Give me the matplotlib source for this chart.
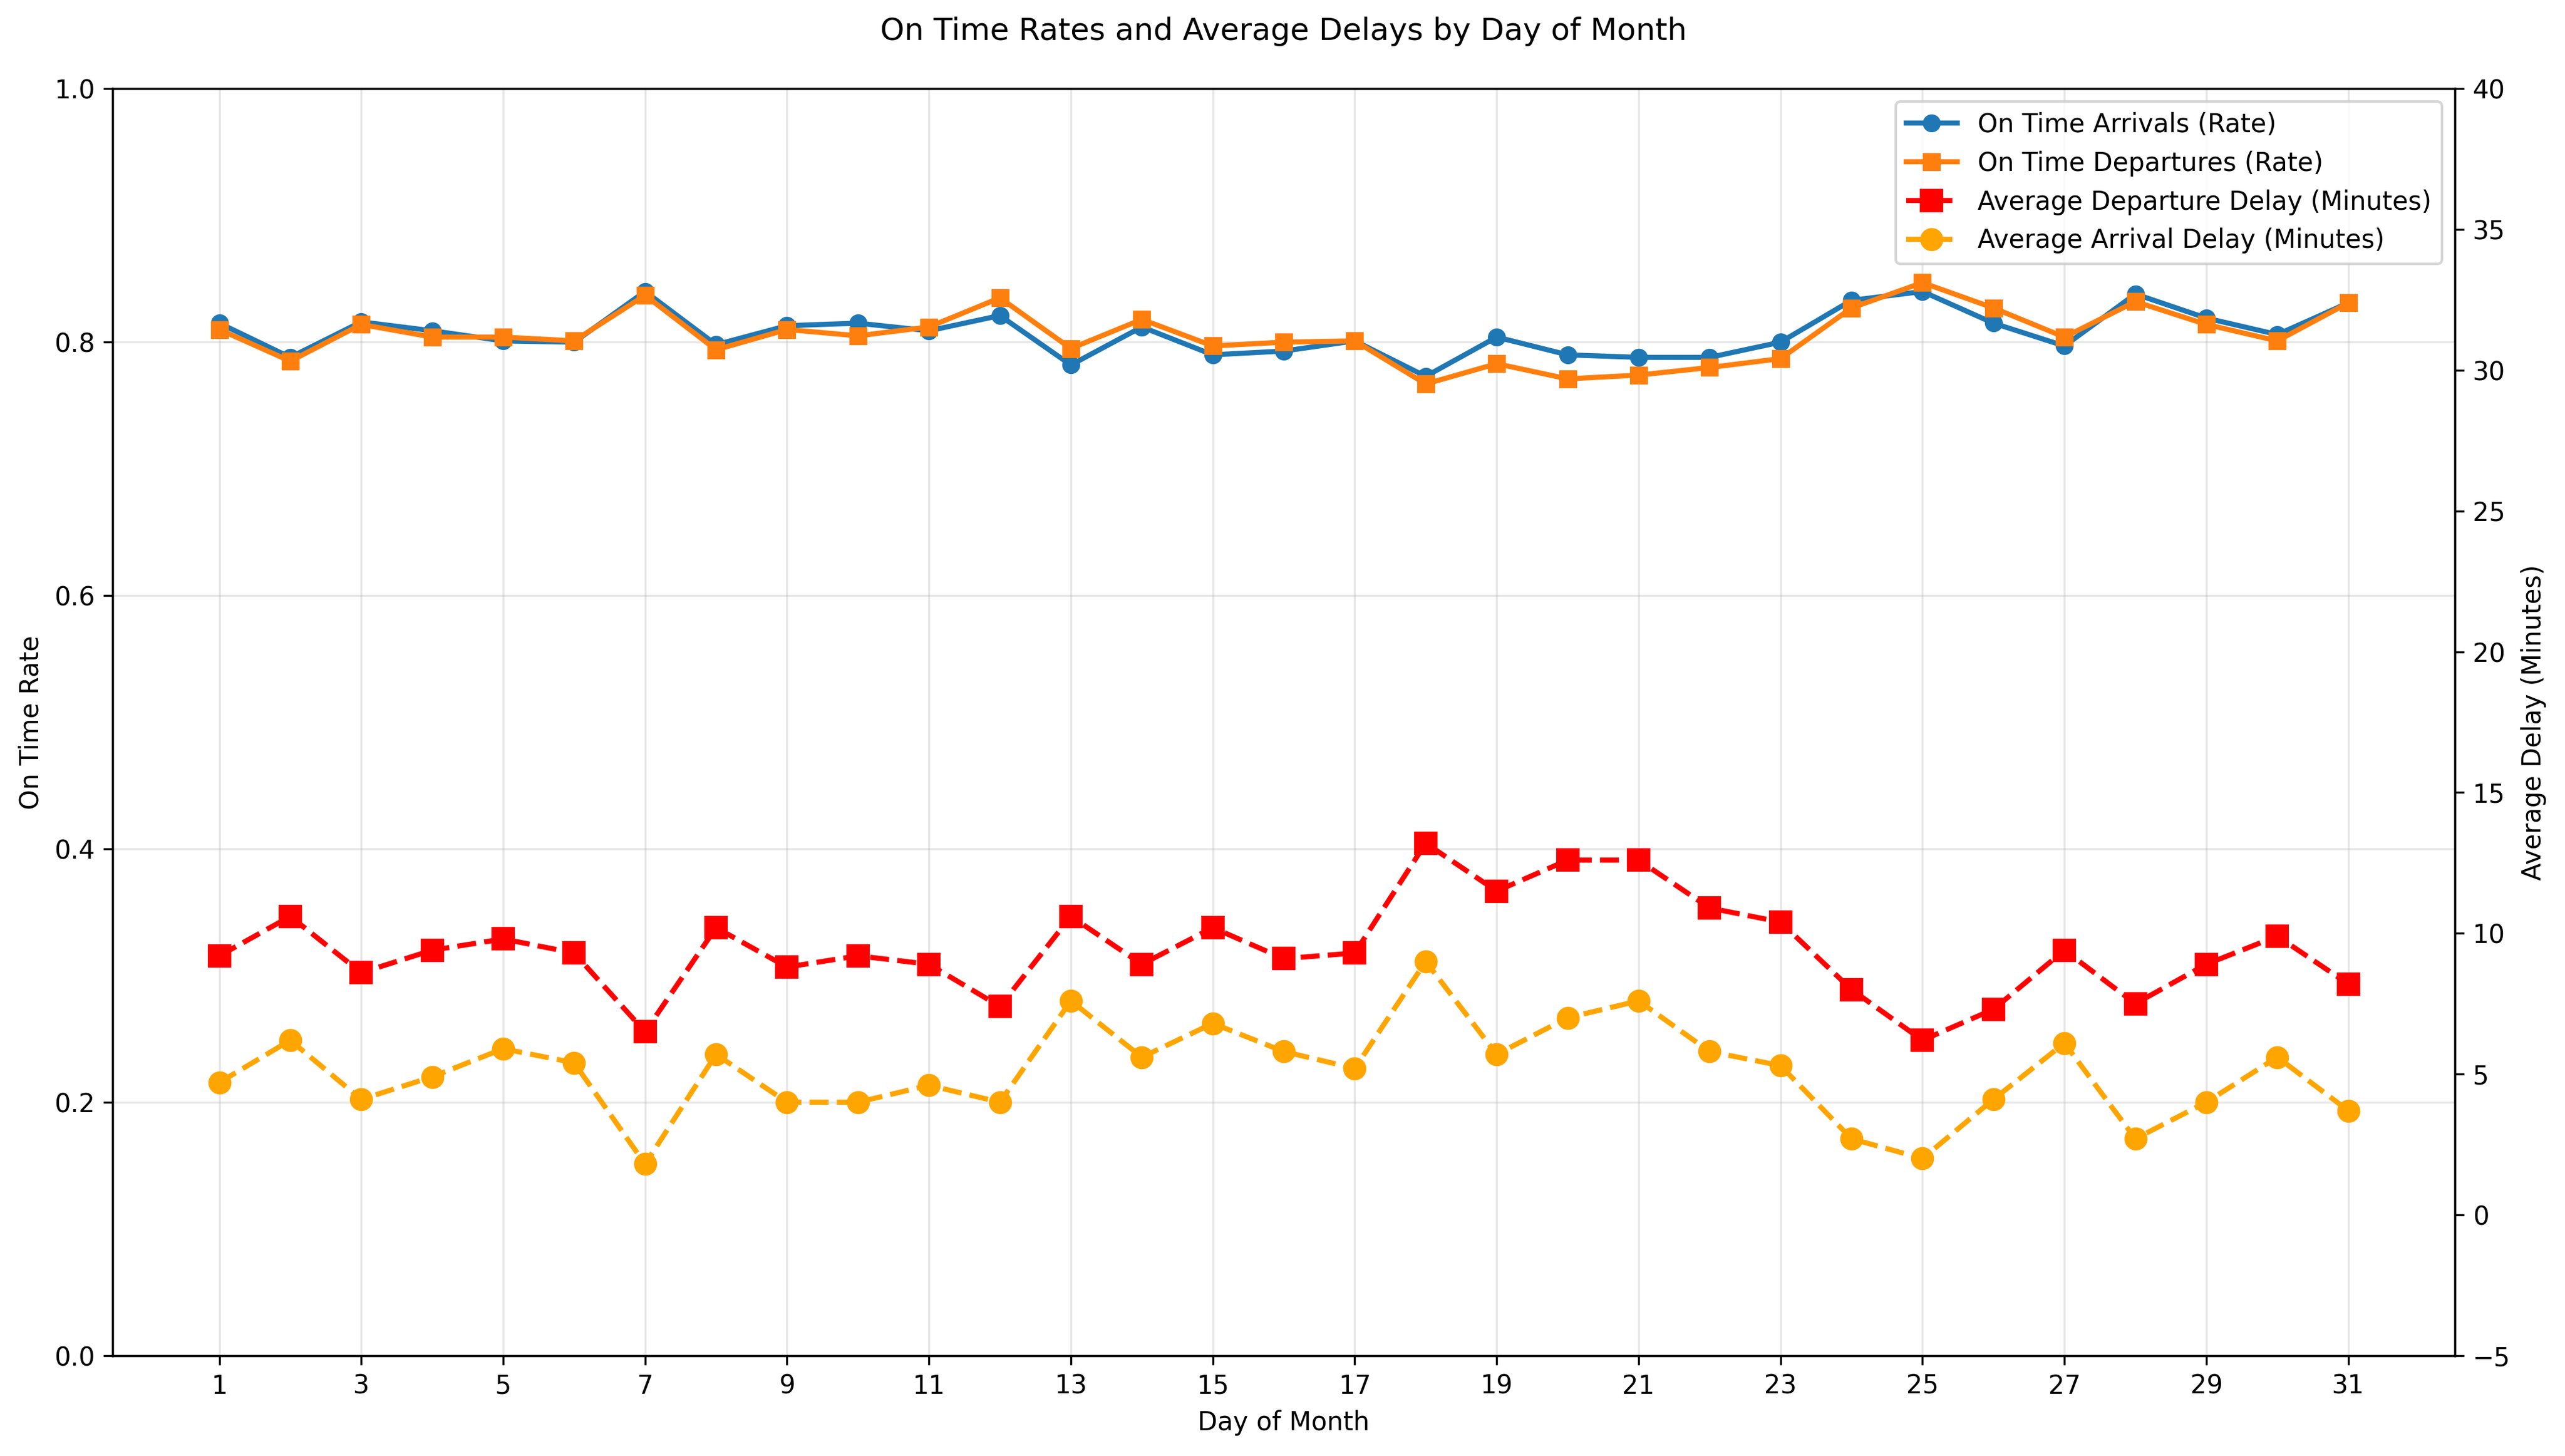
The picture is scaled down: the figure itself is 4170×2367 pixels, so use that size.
import numpy as np
import matplotlib
matplotlib.use('Agg')
import matplotlib.pyplot as plt

days = list(range(1, 32))

ontime_arr = [0.815, 0.788, 0.816, 0.809, 0.801, 0.800, 0.840, 0.798, 0.813, 0.815,
              0.809, 0.821, 0.782, 0.812, 0.790, 0.793, 0.801, 0.773, 0.804, 0.790,
              0.788, 0.788, 0.800, 0.833, 0.840, 0.815, 0.797, 0.838, 0.819, 0.806, 0.831]
ontime_dep = [0.810, 0.785, 0.814, 0.804, 0.804, 0.801, 0.837, 0.794, 0.810, 0.805,
              0.812, 0.835, 0.795, 0.818, 0.797, 0.800, 0.801, 0.767, 0.783, 0.771,
              0.774, 0.780, 0.787, 0.827, 0.847, 0.827, 0.804, 0.832, 0.814, 0.801, 0.831]
dep_delay = [9.2, 10.6, 8.6, 9.4, 9.8, 9.3, 6.5, 10.2, 8.8, 9.2,
             8.9, 7.4, 10.6, 8.9, 10.2, 9.1, 9.3, 13.2, 11.5, 12.6,
             12.6, 10.9, 10.4, 8.0, 6.2, 7.3, 9.4, 7.5, 8.9, 9.9, 8.2]
arr_delay = [4.7, 6.2, 4.1, 4.9, 5.9, 5.4, 1.8, 5.7, 4.0, 4.0,
             4.6, 4.0, 7.6, 5.6, 6.8, 5.8, 5.2, 9.0, 5.7, 7.0,
             7.6, 5.8, 5.3, 2.7, 2.0, 4.1, 6.1, 2.7, 4.0, 5.6, 3.7]

fig, ax1 = plt.subplots(figsize=(13.9, 7.89), dpi=300)

l1, = ax1.plot(days, ontime_arr, marker='o', color='#1f77b4', linewidth=2, markersize=6,
               label='On Time Arrivals (Rate)')
l2, = ax1.plot(days, ontime_dep, marker='s', color='#ff7f0e', linewidth=2, markersize=6,
               label='On Time Departures (Rate)')
ax1.set_ylim(0, 1)
ax1.set_xlabel('Day of Month')
ax1.set_ylabel('On Time Rate')
ax1.set_xticks(days[::2])
ax1.grid(True, alpha=0.3)

ax2 = ax1.twinx()
l3, = ax2.plot(days, dep_delay, marker='s', linestyle='--', color='red', linewidth=2, markersize=8,
               label='Average Departure Delay (Minutes)')
l4, = ax2.plot(days, arr_delay, marker='o', linestyle='--', color='orange', linewidth=2, markersize=8,
               label='Average Arrival Delay (Minutes)')
ax2.set_ylim(-5, 40)
ax2.set_ylabel('Average Delay (Minutes)')

lines = [l1, l2, l3, l4]
ax1.legend(lines, [l.get_label() for l in lines], loc='upper right')

plt.title('On Time Rates and Average Delays by Day of Month', pad=19)
plt.subplots_adjust(left=0.044, right=0.957, top=0.939, bottom=0.069)
fig.savefig('out.png', dpi=300)
